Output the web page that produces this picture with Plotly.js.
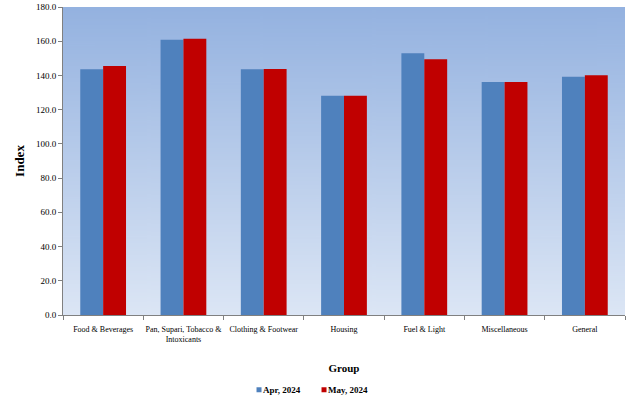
<!DOCTYPE html>
<html>
<head>
<meta charset="utf-8">
<script src="https://cdn.plot.ly/plotly-3.0.1.min.js"></script>
<style>html,body{margin:0;padding:0;background:#fff;}#chart{width:633px;height:420px;}</style>
</head>
<body>
<div id="chart"></div>
<script>
const categories = ["Food & Beverages", "Pan, Supari, Tobacco &<br>Intoxicants", "Clothing & Footwear", "Housing", "Fuel & Light", "Miscellaneous", "General"];
const seriesNames = ["Apr, 2024", "May, 2024"];
const aprValues = [143.6, 160.9, 143.6, 128.2, 152.9, 136.2, 139.3];
const mayValues = [145.5, 161.5, 143.8, 128.2, 149.4, 136.2, 140.1];
const yTicks = [0, 20, 40, 60, 80, 100, 120, 140, 160, 180];

// gradient background image for the plot area
const cv = document.createElement('canvas');
cv.width = 10; cv.height = 300;
const ctx = cv.getContext('2d');
const g = ctx.createLinearGradient(0, 0, 0, 300);
g.addColorStop(0, '#94b2e0');
g.addColorStop(1, '#dce6f5');
ctx.fillStyle = g; ctx.fillRect(0, 0, 10, 300);
const bgUrl = cv.toDataURL();

const font = 'Liberation Serif, Times New Roman, serif';
const traces = [
  {type: 'bar', name: seriesNames[0], x: categories, y: aprValues, marker: {color: '#4f81bd'}},
  {type: 'bar', name: seriesNames[1], x: categories, y: mayValues, marker: {color: '#c00000'}}
];
const layout = {
  width: 633, height: 420,
  margin: {l: 63, r: 8, t: 7, b: 105},
  paper_bgcolor: '#ffffff',
  plot_bgcolor: 'rgba(0,0,0,0)',
  barmode: 'group', bargap: 0.43, bargroupgap: 0,
  font: {family: font, size: 9, color: '#000'},
  images: [{source: bgUrl, xref: 'paper', yref: 'paper', x: 0, y: 1, sizex: 1, sizey: 1, sizing: 'stretch', layer: 'below'}],
  xaxis: {
    showline: true, linecolor: '#808080', linewidth: 1,
    ticks: 'outside', tickson: 'boundaries', ticklen: 4, tickcolor: '#808080',
    tickfont: {family: font, size: 8}, tickangle: 0, ticklabelstandoff: 6,
    automargin: false,
    title: {text: '<b>Group</b>', font: {family: font, size: 11}, standoff: 21}
  },
  yaxis: {
    range: [0, 180], tickvals: yTicks, tickformat: '.1f',
    showline: true, linecolor: '#808080', linewidth: 1,
    ticks: 'outside', ticklen: 4, tickcolor: '#808080', showgrid: false, zeroline: false,
    tickfont: {family: font, size: 9}, automargin: false,
    title: {text: '<b>Index</b>', font: {family: font, size: 13}, standoff: 8}
  },
  legend: {orientation: 'h', xref: 'container', yref: 'container', x: 0.455, xanchor: 'center', y: 0.072, yanchor: 'middle',
    font: {family: font, size: 9, weight: 'bold'}, itemwidth: 30, tracegroupgap: 0, entrywidth: 20},
  showlegend: true
};
Plotly.newPlot('chart', traces, layout, {displayModeBar: false, staticPlot: true}).then(function (gd) {
  // small square legend markers placed right next to the text, as in the reference
  gd.querySelectorAll('.legend .scrollbox').forEach(function (s) { s.removeAttribute('clip-path'); });
  gd.querySelectorAll('.legend').forEach(function (s) { s.removeAttribute('clip-path'); });
  gd.querySelectorAll('.legend .traces').forEach(function (tr) {
    const lp = tr.querySelector('.legendpoints');
    if (lp) lp.setAttribute('transform', 'translate(16,0)');
    tr.querySelectorAll('.legendpoints path').forEach(function (p) {
      p.setAttribute('d', 'M2.5,2.5H-2.5V-2.5H2.5Z');
      p.style.strokeWidth = '0';
    });
  });
});
</script>
</body>
</html>
